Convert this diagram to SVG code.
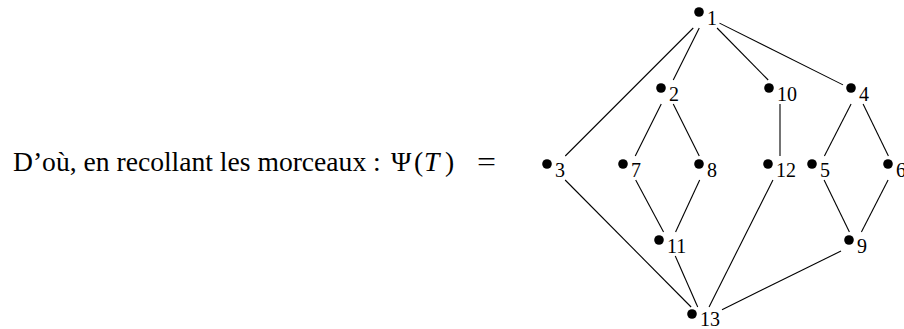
<svg xmlns="http://www.w3.org/2000/svg" width="904" height="329" viewBox="0 0 904 329">
<style>
.lbl{font-family:"Liberation Serif","DejaVu Serif",serif;font-size:20px;fill:#000}
.main{font-family:"Liberation Serif","DejaVu Serif",serif;font-size:27.6px;fill:#000}
.it{font-style:italic}
.dot{fill:#000}
.edges line{stroke:#000;stroke-width:1.1;fill:none}
</style>
<rect width="904" height="329" fill="#fff"/>
<text class="main" x="13" y="171">D’où, en recollant les morceaux :</text>
<text class="main" y="171"><tspan x="391">Ψ</tspan><tspan x="414">(</tspan><tspan x="424" class="it">T</tspan><tspan x="445">)</tspan><tspan x="477" textLength="19" lengthAdjust="spacingAndGlyphs">=</tspan></text>
<g class="edges" id="connectors">
<line x1="699.25" y1="28" x2="673.25" y2="80"/>
<line x1="693.25" y1="28" x2="565.25" y2="156"/>
<line x1="717.05" y1="28" x2="768.2" y2="80"/>
<line x1="719.5" y1="23.13" x2="843" y2="84.87"/>
<line x1="661.25" y1="104" x2="635.25" y2="156"/>
<line x1="673.25" y1="104" x2="699.25" y2="156"/>
<line x1="780" y1="104" x2="780" y2="156"/>
<line x1="851.09" y1="104" x2="824.41" y2="156"/>
<line x1="863.09" y1="104" x2="888.41" y2="156"/>
<line x1="565.15" y1="180" x2="691.1" y2="307"/>
<line x1="635.69" y1="180" x2="663.56" y2="232"/>
<line x1="699.68" y1="180" x2="675.57" y2="232"/>
<line x1="675.28" y1="256" x2="697.72" y2="307"/>
<line x1="772.96" y1="180" x2="709.04" y2="307"/>
<line x1="824.09" y1="180" x2="849.41" y2="232"/>
<line x1="888.09" y1="180" x2="861.41" y2="232"/>
<line x1="841" y1="251.02" x2="722" y2="309.64"/>
</g>
<g id="n1"><circle class="dot" cx="699" cy="12" r="4.8"/><text class="lbl" x="707" y="25">1</text></g>
<g id="n2"><circle class="dot" cx="661" cy="88" r="4.8"/><text class="lbl" x="669" y="101">2</text></g>
<g id="n10"><circle class="dot" cx="769" cy="88" r="4.8"/><text class="lbl" x="777" y="101">10</text></g>
<g id="n4"><circle class="dot" cx="851" cy="88" r="4.8"/><text class="lbl" x="859" y="101">4</text></g>
<g id="n3"><circle class="dot" cx="547" cy="164" r="4.8"/><text class="lbl" x="555" y="177">3</text></g>
<g id="n7"><circle class="dot" cx="623" cy="164" r="4.8"/><text class="lbl" x="631" y="177">7</text></g>
<g id="n8"><circle class="dot" cx="699" cy="164" r="4.8"/><text class="lbl" x="707" y="177">8</text></g>
<g id="n12"><circle class="dot" cx="768" cy="164" r="4.8"/><text class="lbl" x="776" y="177">12</text></g>
<g id="n5"><circle class="dot" cx="812" cy="164" r="4.8"/><text class="lbl" x="820" y="177">5</text></g>
<g id="n6"><circle class="dot" cx="888" cy="164" r="4.8"/><text class="lbl" x="896" y="177">6</text></g>
<g id="n11"><circle class="dot" cx="659" cy="240" r="4.8"/><text class="lbl" x="667" y="253">11</text></g>
<g id="n9"><circle class="dot" cx="849" cy="240" r="4.8"/><text class="lbl" x="857" y="253">9</text></g>
<g id="n13"><circle class="dot" cx="692" cy="314" r="4.8"/><text class="lbl" x="700" y="326">13</text></g>
</svg>
